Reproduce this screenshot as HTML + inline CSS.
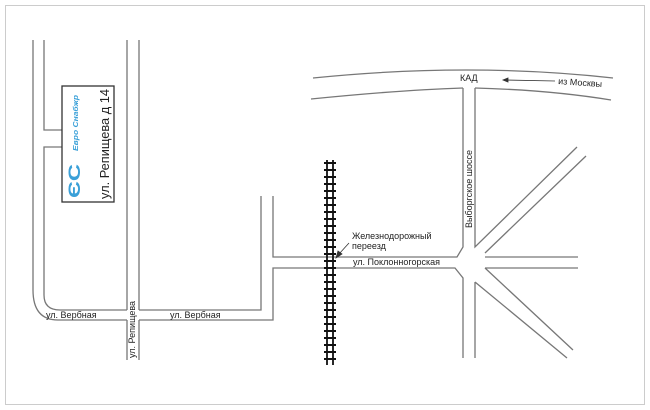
<!DOCTYPE html>
<html><head><meta charset="utf-8"><style>body{margin:0;background:#fff}svg{display:block}</style></head><body>
<svg width="650" height="410" viewBox="0 0 650 410" xmlns="http://www.w3.org/2000/svg" font-family="Liberation Sans, sans-serif">
<defs>
<pattern id="ties" x="0" y="162" width="20" height="7" patternUnits="userSpaceOnUse">
<rect x="0" y="0" width="20" height="2" fill="#111"/>
</pattern>
</defs>
<rect x="5.5" y="5.5" width="639" height="399" fill="#fff" stroke="#ccc"/>
<g stroke="#777" stroke-width="1.3" fill="none">
<path d="M33 40 V290 Q33 320 58 320 H127"/>
<path d="M44 40 V130 H62 M62 147 H44 V295 Q44 310 60 310 H127"/>
<path d="M127 40 V310 M139 40 V310 M127 320 V360 M139 320 V360"/>
<path d="M139 310 H261 V196 M139 320 H273 V268 H455 L463 278 V358 M273 196 V257 H457 L463 247 V88"/>
<path d="M475 88 V247 L577 147 M485 253 L586 156 M485 257 H578 M485 268 H578 M485 268 L573 350 M475 282 L567 358 M475 282 V358"/>
<path d="M313 78 Q470 62 613 78 M311 99 Q400 90 463 88 M475 88 Q550 90 611 100"/>
</g>
<rect x="62" y="86" width="52" height="116" fill="#fff" stroke="#333" stroke-width="1.3"/>
<g transform="translate(80,198) rotate(-90)">
<text x="0" y="0" font-size="17" font-weight="bold" fill="#3aa0d8" textLength="34" lengthAdjust="spacingAndGlyphs">ЄС</text>
<text x="47" y="-2" font-size="7" font-style="italic" font-weight="bold" fill="#3aa0d8" textLength="56" lengthAdjust="spacingAndGlyphs">Евро Снабжр</text>
</g>
<text transform="translate(109,199) rotate(-90)" font-size="13" fill="#222" textLength="110" lengthAdjust="spacingAndGlyphs">ул. Репищева д 14</text>
<rect x="324" y="160" width="12" height="205" fill="url(#ties)"/>
<g stroke="#111" stroke-width="1.8">
<line x1="327" y1="160" x2="327" y2="365"/><line x1="333" y1="160" x2="333" y2="365"/>
</g>
<g font-size="9" fill="#222">
<text x="46" y="318">ул. Вербная</text>
<text x="170" y="318">ул. Вербная</text>
<text transform="translate(135,358) rotate(-90)">ул. Репищева</text>
<text x="352" y="239">Железнодорожный</text>
<text x="352" y="249">переезд</text>
<text x="353" y="265">ул. Поклонногорская</text>
<text transform="translate(472,228) rotate(-90)">Выборгское шоссе</text>
<text x="460" y="81">КАД</text>
<text transform="translate(558,84) rotate(4)">из Москвы</text>
</g>
<g stroke="#333" stroke-width="0.8" fill="#333">
<line x1="555" y1="81" x2="506" y2="80"/><path d="M503 80 L508 78 L508 82 Z"/>
<line x1="349" y1="243" x2="339" y2="254"/><path d="M336 258 L338 251 L342 254 Z"/>
</g>
</svg>
</body></html>
